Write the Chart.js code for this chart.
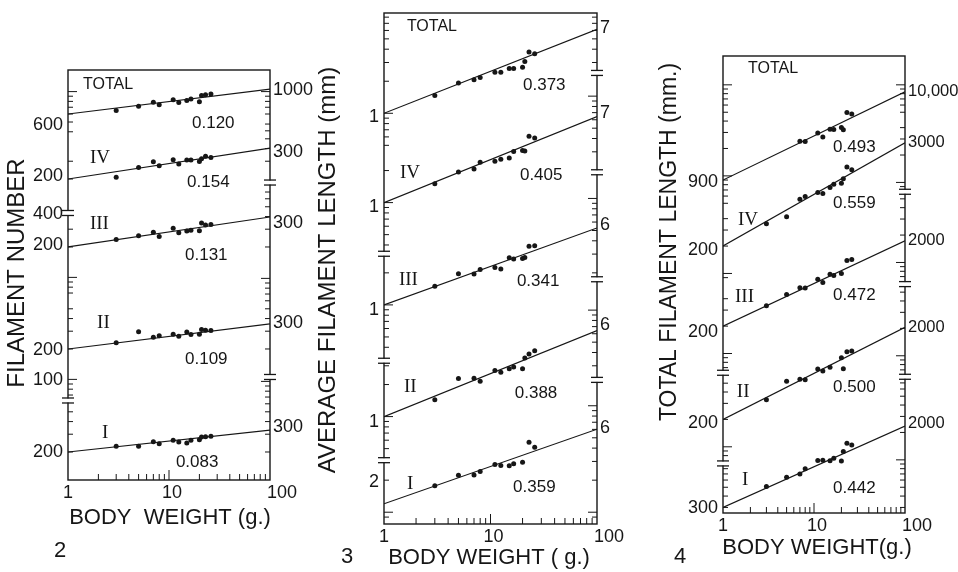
<!DOCTYPE html>
<html>
<head>
<meta charset="utf-8">
<script src="https://cdn.jsdelivr.net/npm/chart.js@4.4.1/dist/chart.umd.min.js"></script>
<style>
html, body { margin: 0; background: #fff; }
canvas { position: absolute; left: 0; top: 0; }
</style>
</head>
<body>
<canvas id="fig2" width="958" height="572"></canvas>
<canvas id="fig3" width="958" height="572"></canvas>
<canvas id="fig4" width="958" height="572"></canvas>
<script>
// body weights (g) of the animals, same order in every series
const bodyWeight = [3, 5, 7, 8, 11, 12.5, 15, 16.5, 20, 21, 23, 26];
const xTicks = [1, 10, 100];
const groups = ['TOTAL', 'IV', 'III', 'II', 'I'];

// fig 2 - filament number
const numTotal = [650, 714, 786, 739, 831, 779, 816, 843, 793, 915, 930, 944];
const numIV    = [208, 260, 296, 271, 310, 282, 308, 308, 298, 317, 336, 327];
const numIII   = [237, 259, 280, 254, 306, 276, 288, 293, 289, 346, 330, 334];
const numII    = [231, 297, 262, 271, 280, 268, 295, 278, 280, 312, 307, 305];
const numI     = [228, 228, 253, 242, 262, 251, 245, 262, 265, 282, 283, 286];
const numFitStart = [600, 200, 200, 200, 200];   // at 1 g
const numFitEnd   = [1060, 405, 396, 354, 330];  // at 100 g
const numSlopes = ['0.120', '0.154', '0.131', '0.109', '0.083'];

// fig 3 - average filament length (mm)
const avgTotal = [1.47, 1.93, 2.06, 2.17, 2.43, 2.43, 2.64, 2.64, 2.71, 3.06, 3.77, 3.63];
const avgIV    = [1.50, 1.94, 2.07, 2.40, 2.45, 2.55, 2.63, 3.02, 3.09, 3.06, 4.21, 4.05];
const avgIII   = [1.50, 1.96, 1.95, 2.15, 2.24, 2.17, 2.77, 2.70, 2.73, 2.79, 3.56, 3.60];
const avgII    = [1.44, 2.28, 2.29, 2.15, 2.71, 2.61, 2.81, 2.92, 2.81, 3.56, 3.88, 4.15];
const avgI     = [1.77, 2.22, 2.24, 2.41, 2.80, 2.75, 2.73, 2.85, 2.94, null, 4.54, 4.08];
const avgFitStart = [1, 1, 1, 1, 1.2];
const avgFitEnd   = [6.15, 6.43, 5.28, 6.43, 6.02];
const avgSlopes = ['0.373', '0.405', '0.341', '0.388', '0.359'];

// fig 4 - total filament length (mm)
const sumTotal = [null, null, 2397, 2382, 2962, 2679, 3249, 3226, 3403, 3221, 4970, 4780];
const sumIV    = [352, 421, 654, 700, 774, 754, 877, 955, 980, 1098, 1481, 1375];
const sumIII   = [335, 446, 528, 525, 654, 601, 741, 718, 756, null, 1049, 1078];
const sumII    = [328, 524, 553, 546, 714, 682, 747, null, 954, 721, 1105, 1125];
const sumI     = [510, 646, 698, 796, 982, 990, 978, 1044, 974, 1239, 1520, 1452];
const sumFitStart = [900, 200, 200, 200, 300];
const sumFitEnd   = [8400, 2730, 1730, 2050, 2345];
const sumSlopes = ['0.493', '0.559', '0.472', '0.500', '0.442'];

const ink = '#161616';
const sans = '"Liberation Sans", Arial, sans-serif';
const serif = '"Liberation Serif", "Times New Roman", serif';

const panels = [
  {
    id: 'fig2', box: { left: 68, top: 70, right: 270, bottom: 480 }, decades: 4.059,
    axisTop: [1636, 2400, 11300, 115600, 1210000],
    series: [numTotal, numIV, numIII, numII, numI],
    fitStart: numFitStart, fitEnd: numFitEnd, slopes: numSlopes,
    groupAt: [[1.41, 1162], [1.65, 323], [1.65, 337], [1.94, 361], [2.17, 308]],
    slopeAt: [[16.9, 489], [15.1, 187], [14.4, 166], [14.4, 159], [11.7, 159]],
    leftLabels: [['600', 0, 467], ['200', 1, 214], ['400', 2, 424], ['200', 2, 209], ['200', 3, 195], ['100', 3, 98.5], ['200', 4, 200]],
    rightLabels: [['1000', 0, 1037], ['300', 1, 370], ['300', 2, 345], ['300', 3, 361], ['300', 4, 353]],
    rightSize: 18,
    breaksLeft: [1, 3], breaksRight: [1, 3],
    yTitle: 'FILAMENT NUMBER', yTitleAt: [17, 273], yTitleSize: 24,
    xTitle: 'BODY  WEIGHT (g.)', xTitleAt: [170, 518],
    fig: '2', figAt: [60, 551]
  },
  {
    id: 'fig3', box: { left: 384, top: 13, right: 597, bottom: 524 }, decades: 4.80,
    axisTop: [8.75, 60.4, 552, 6180, 48900],
    series: [avgTotal, avgIV, avgIII, avgII, avgI],
    fitStart: avgFitStart, fitEnd: avgFitEnd, slopes: avgSlopes,
    groupAt: [[1.64, 6.47], [1.41, 1.90], [1.38, 1.72], [1.54, 1.90], [1.64, 1.85]],
    slopeAt: [[20.2, 1.845], [18.9, 1.82], [17.7, 1.68], [16.9, 1.67], [16.3, 1.73]],
    leftLabels: [['1', 0, 0.924], ['1', 1, 0.911], ['1', 2, 0.898], ['1', 3, 0.893], ['2', 4, 1.93]],
    rightLabels: [['7', 0, 6.33], ['7', 1, 6.95], ['6', 2, 5.64], ['6', 3, 7.27], ['6', 4, 6.20]],
    rightSize: 18,
    breaksLeft: [1, 2, 3], breaksRight: [0, 1, 2, 3],
    yTitle: 'AVERAGE FILAMENT LENGTH (mm)', yTitleAt: [328, 270], yTitleSize: 24,
    xTitle: 'BODY WEIGHT ( g.)', xTitleAt: [489, 558],
    fig: '3', figAt: [347, 557]
  },
  {
    id: 'fig4', box: { left: 723, top: 56, right: 905, bottom: 513 }, decades: 5.02,
    axisTop: [20740, 24480, 185400, 1963000, 27300000],
    series: [sumTotal, sumIV, sumIII, sumII, sumI],
    fitStart: sumFitStart, fitEnd: sumFitEnd, slopes: sumSlopes,
    groupAt: [[1.88, 14930], [1.46, 386], [1.355, 417], [1.42, 399], [1.62, 599]],
    slopeAt: [[16.2, 2074], [16.2, 594], [16.2, 439], [16.2, 453], [16.2, 489]],
    leftLabels: [['900', 0, 855], ['200', 1, 180.7], ['200', 2, 171.8], ['200', 3, 182], ['300', 4, 294.6]],
    rightLabels: [['10,000', 0, 8553], ['3000', 1, 2779], ['2000', 2, 1762], ['2000', 3, 2065], ['2000', 4, 2530]],
    rightSize: 16.5,
    breaksLeft: [2, 3], breaksRight: [1, 2, 3],
    yTitle: 'TOTAL FILAMENT LENGTH (mm.)', yTitleAt: [670, 242], yTitleSize: 23,
    xTitle: 'BODY WEIGHT(g.)', xTitleAt: [817, 548],
    fig: '4', figAt: [680, 557]
  }
];

function seg(ctx, x1, y1, x2, y2) {
  ctx.beginPath();
  ctx.moveTo(x1, y1);
  ctx.lineTo(x2, y2);
  ctx.stroke();
}

function makeFrame(p) {
  return {
    id: 'frame_' + p.id,
    afterDraw(chart) {
      const ctx = chart.ctx, a = chart.chartArea, x = chart.scales.x;
      const ys = groups.map((g, i) => chart.scales['y' + i]);
      const leftEnd = ys.map((s, i) => s.getPixelForValue(p.fitStart[i]));
      const rightEnd = ys.map((s, i) => s.getPixelForValue(p.fitEnd[i]));
      const last = groups.length - 1;

      ctx.save();
      ctx.strokeStyle = ink;
      ctx.fillStyle = ink;
      ctx.lineWidth = 1.4;
      ctx.strokeRect(a.left, a.top, a.right - a.left, a.bottom - a.top);

      // minor ticks on the x axis
      ctx.lineWidth = 1;
      for (let k = 1; k < 100; k *= 10) {
        for (let m = 2; m <= 9; m++) {
          const px = x.getPixelForValue(m * k);
          seg(ctx, px, a.bottom, px, a.bottom - 6);
        }
      }
      const p10 = x.getPixelForValue(10);
      seg(ctx, p10, a.bottom, p10, a.bottom - 10);

      // log ticks on both sides, one run per group
      [[leftEnd, a.left, 1], [rightEnd, a.right, -1]].forEach(([ends, ax, dir]) => {
        ys.forEach((s, i) => {
          const hi = i === 0 ? a.top : (ends[i - 1] + ends[i]) / 2;
          const lo = i === last ? a.bottom : (ends[i] + ends[i + 1]) / 2;
          const k0 = Math.floor(Math.log10(s.min)), k1 = Math.ceil(Math.log10(s.max));
          for (let k = k0; k <= k1; k++) {
            for (let m = 1; m <= 9; m++) {
              const py = s.getPixelForValue(m * Math.pow(10, k));
              if (py < hi + 4 || py > lo - 4) continue;
              seg(ctx, ax, py, ax + dir * (m === 1 ? 9 : 5), py);
            }
          }
        });
      });

      // axis breaks
      [[p.breaksLeft, leftEnd, a.left], [p.breaksRight, rightEnd, a.right]].forEach(([list, ends, ax]) => {
        list.forEach(b => {
          const py = (ends[b] + ends[b + 1]) / 2;
          ctx.fillStyle = '#fff';
          ctx.fillRect(ax - 3, py - 2, 6, 4);
          ctx.fillStyle = ink;
          ctx.lineWidth = 1.3;
          seg(ctx, ax - 6, py - 2.5, ax + 6, py - 2.5);
          seg(ctx, ax - 6, py + 2.5, ax + 6, py + 2.5);
        });
      });

      ctx.textBaseline = 'middle';
      ctx.font = '18px ' + sans;
      // tick labels
      ctx.textAlign = 'right';
      p.leftLabels.forEach(([t, g, v]) => ctx.fillText(t, a.left - 5, ys[g].getPixelForValue(v)));
      ctx.textAlign = 'left';
      ctx.font = p.rightSize + 'px ' + sans;
      p.rightLabels.forEach(([t, g, v]) => ctx.fillText(t, a.right + 3, ys[g].getPixelForValue(v)));
      ctx.font = '18px ' + sans;
      xTicks.forEach((t, i) => {
        const px = x.getPixelForValue(t);
        if (i === xTicks.length - 1) {
          ctx.textAlign = 'left';
          ctx.fillText(String(t), px - 3, a.bottom + 13);
        } else {
          ctx.textAlign = 'center';
          ctx.fillText(String(t), px + (i ? 3 : 0), a.bottom + 13);
        }
      });

      // group names and exponents
      ctx.textAlign = 'left';
      groups.forEach((g, i) => {
        const [w, v] = p.groupAt[i];
        ctx.font = g === 'TOTAL' ? '16px ' + sans : '19px ' + serif;
        ctx.fillText(g, x.getPixelForValue(w), ys[i].getPixelForValue(v));
        const [sw, sv] = p.slopeAt[i];
        ctx.font = '17px ' + sans;
        ctx.fillText(p.slopes[i], x.getPixelForValue(sw), ys[i].getPixelForValue(sv));
      });

      // titles
      ctx.font = '22px ' + sans;
      ctx.textAlign = 'center';
      ctx.fillText(p.xTitle, p.xTitleAt[0], p.xTitleAt[1]);
      ctx.fillText(p.fig, p.figAt[0], p.figAt[1]);
      ctx.save();
      ctx.translate(p.yTitleAt[0], p.yTitleAt[1]);
      ctx.rotate(-Math.PI / 2);
      ctx.font = p.yTitleSize + 'px ' + sans;
      ctx.fillText(p.yTitle, 0, 0);
      ctx.restore();

      ctx.restore();
    }
  };
}

panels.forEach(p => {
  const scales = { x: { type: 'logarithmic', min: 1, max: 100, display: false } };
  const datasets = [];
  groups.forEach((g, i) => {
    scales['y' + i] = {
      type: 'logarithmic',
      min: p.axisTop[i] / Math.pow(10, p.decades),
      max: p.axisTop[i],
      display: false
    };
    datasets.push({
      label: g,
      data: bodyWeight.map((w, j) => ({ x: w, y: p.series[i][j] })).filter(d => d.y != null),
      yAxisID: 'y' + i,
      pointRadius: 2.5,
      backgroundColor: ink,
      borderWidth: 0
    });
    datasets.push({
      label: g + ' fit',
      data: [{ x: 1, y: p.fitStart[i] }, { x: 100, y: p.fitEnd[i] }],
      yAxisID: 'y' + i,
      showLine: true,
      pointRadius: 0,
      borderColor: ink,
      borderWidth: 1.2
    });
  });

  new Chart(document.getElementById(p.id), {
    type: 'scatter',
    data: { datasets },
    options: {
      responsive: false,
      animation: false,
      events: [],
      layout: { padding: { left: p.box.left, top: p.box.top, right: 958 - p.box.right, bottom: 572 - p.box.bottom } },
      plugins: { legend: { display: false }, tooltip: { enabled: false } },
      scales
    },
    plugins: [makeFrame(p)]
  });
});
</script>
</body>
</html>
